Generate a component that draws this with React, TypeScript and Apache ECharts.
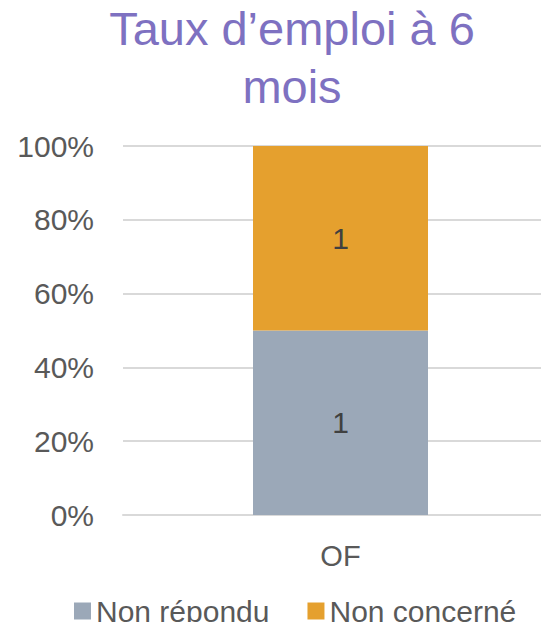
import React, { useEffect, useRef } from "react";
import * as echarts from "echarts";

const titleText = "Taux d’emploi à 6\nmois";
const categories = ["OF"];
const seriesNames = ["Non répondu", "Non concerné"];
const nonRepondu = [1];
const nonConcerne = [1];
const yTicks = [0, 0.2, 0.4, 0.6, 0.8, 1];

const FONT = "'Liberation Sans', Arial, sans-serif";

export default function App() {
  const ref = useRef<HTMLDivElement>(null);
  useEffect(() => {
    if (!ref.current) return;
    const chart = echarts.init(ref.current, undefined, { renderer: "svg" });
    const totals = categories.map((_, i) => nonRepondu[i] + nonConcerne[i]);
    const raw = [nonRepondu, nonConcerne];
    const colors = ["#9BA8B8", "#E5A02E"];
    chart.setOption({
      animation: false,
      textStyle: { fontFamily: FONT },
      title: {
        text: titleText,
        left: 292,
        textAlign: "center",
        top: -6,
        padding: [5, 0, 5, 0],
        textStyle: {
          color: "#7E71C1",
          fontSize: 47,
          fontWeight: "normal",
          fontFamily: FONT,
          lineHeight: 58,
        },
      },
      legend: {
        top: 591,
        left: 69,
        itemWidth: 17,
        itemHeight: 17,
        itemGap: 38,
        icon: "rect",
        textStyle: { color: "#595959", fontSize: 30, fontFamily: FONT },
        data: seriesNames,
      },
      grid: { left: 123, right: 0, top: 146, bottom: 115 },
      xAxis: {
        type: "category",
        data: categories,
        axisLine: { lineStyle: { color: "#D9D9D9", width: 2 } },
        axisTick: { show: false },
        axisLabel: { color: "#595959", fontSize: 29, margin: 26, fontFamily: FONT },
      },
      yAxis: {
        type: "value",
        min: 0,
        max: 1,
        interval: 0.2,
        axisLine: { show: false },
        axisTick: { show: false },
        splitLine: { lineStyle: { color: "#D9D9D9", width: 2 } },
        axisLabel: {
          color: "#595959",
          fontSize: 30,
          margin: 29,
          fontFamily: FONT,
          formatter: (v: number) =>
            yTicks.some((t) => Math.abs(t - v) < 1e-9) ? Math.round(v * 100) + "%" : "",
        },
      },
      series: seriesNames.map((name, s) => ({
        name,
        type: "bar",
        stack: "total",
        barWidth: 175,
        itemStyle: { color: colors[s] },
        label: {
          show: true,
          position: "inside",
          color: "#404040",
          fontSize: 30,
          fontFamily: FONT,
          formatter: (p: any) => String(raw[s][p.dataIndex]),
        },
        data: raw[s].map((v, i) => v / totals[i]),
      })),
    });
    return () => chart.dispose();
  }, []);
  return (
    <div style={{ width: 549, height: 630, margin: -8, overflow: "hidden" }}>
      <div ref={ref} style={{ width: 558, height: 630 }} />
    </div>
  );
}
